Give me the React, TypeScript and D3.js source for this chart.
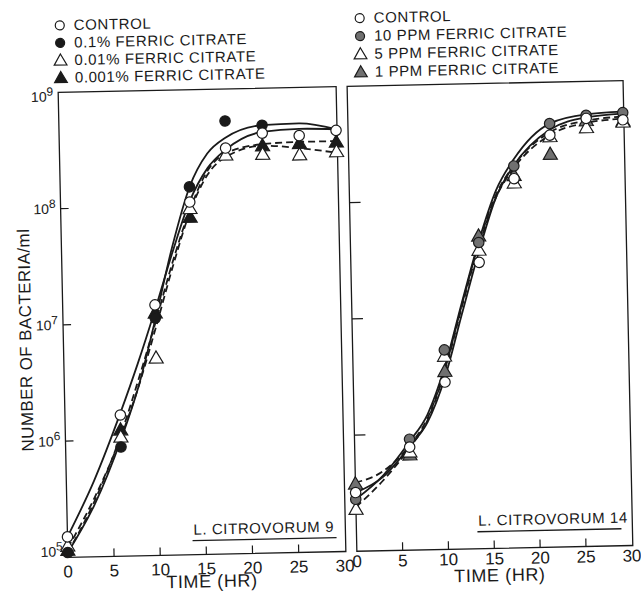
import React from "react";
import * as d3 from "d3";

// sampling times (hr) of the plotted points
const times = [0, 6, 10, 14, 18, 22, 26, 30];
const fitTimes = [0, 3, 6, 8, 10, 12, 14, 16, 18, 22, 26, 30];

// L. citrovorum 9 : measured counts
const control9 = [1.5e5, 1.64e6, 1.43e7, 1.08e8, 3.1e8, 4.1e8, 3.85e8, 4.2e8];
const ferric01 = [1.1e5, 8.7e5, 1.1e7, 1.46e8, 5.3e8, 4.8e8, null, null];
const ferric001 = [1.25e5, 1.06e6, 5.0e6, 9.5e7, 2.7e8, 2.7e8, 2.63e8, 2.76e8];
const ferric0001 = [1.15e5, 1.22e6, 1.22e7, 8.0e7, null, 3.2e8, 3.3e8, 3.34e8];
// L. citrovorum 9 : fitted curves
const control9Fit = [1.5e5, 4.5e5, 1.7e6, 4.5e6, 1.3e7, 4.0e7, 1.1e8, 2.1e8, 3.0e8, 4.2e8, 4.4e8, 4.3e8];
const ferric01Fit = [1.1e5, 2.8e5, 1.0e6, 2.8e6, 1.07e7, 4.5e7, 1.45e8, 2.8e8, 3.8e8, 4.8e8, 4.9e8, 4.3e8];
const ferric001Fit = [1.2e5, 3.2e5, 1.05e6, 2.8e6, 8.9e6, 3.0e7, 8.9e7, 1.85e8, 2.6e8, 3.2e8, 3.0e8, 2.7e8];
const ferric0001Fit = [1.1e5, 3.0e5, 1.1e6, 3.2e6, 1.0e7, 3.3e7, 9.3e7, 2.0e8, 2.8e8, 3.3e8, 3.4e8, 3.4e8];

// L. citrovorum 14 : measured counts
const control14 = [3.2e5, 7.7e5, 2.75e6, 2.9e7, 1.5e8, 3.5e8, 4.8e8, 4.6e8];
const ppm10 = [2.8e5, 9.0e5, 5.2e6, 4.3e7, 1.93e8, 4.4e8, 5.1e8, 5.3e8];
const ppm5 = [2.3e5, 7.0e5, 4.6e6, 3.7e7, 1.38e8, 3.4e8, 4.0e8, 4.4e8];
const ppm1 = [3.8e5, 6.6e5, 3.4e6, 4.9e7, 1.6e8, 2.4e8, 4.6e8, 4.5e8];
// L. citrovorum 14 : fitted curves
const control14Fit = [3.2e5, 4.3e5, 7.8e5, 1.25e6, 3.0e6, 1.05e7, 3.6e7, 1.05e8, 1.95e8, 3.9e8, 4.9e8, 5.2e8];
const ppm10Fit = [2.8e5, 4.4e5, 8.6e5, 1.45e6, 3.7e6, 1.3e7, 4.4e7, 1.2e8, 2.2e8, 4.4e8, 5.2e8, 5.4e8];
const ppm5Fit = [2.4e5, 4.0e5, 7.6e5, 1.3e6, 3.4e6, 1.2e7, 4.0e7, 1.05e8, 1.85e8, 3.5e8, 4.4e8, 4.7e8];
const ppm1Fit = [3.9e5, 4.8e5, 8.0e5, 1.35e6, 3.5e6, 1.25e7, 4.2e7, 1.1e8, 1.95e8, 3.7e8, 4.6e8, 4.9e8];

const legend9 = ["CONTROL", "0.1% FERRIC CITRATE", "0.01% FERRIC CITRATE", "0.001% FERRIC CITRATE"];
const legend14 = ["CONTROL", "10 PPM FERRIC CITRATE", "5 PPM FERRIC CITRATE", "1 PPM FERRIC CITRATE"];
const xTickValues = [0, 5, 10, 15, 20, 25, 30];
const yTickValues = [1e5, 1e6, 1e7, 1e8, 1e9];

type Series = {
  values: (number | null)[];
  fit: number[];
  shape: "circle" | "triangle";
  fill: string;
  dashed: boolean;
};

const INK = "#1a1a1a";
const GRAY = "#707070";
const FONT = "'Liberation Sans', Arial, sans-serif";

const series9: Series[] = [
  { values: control9, fit: control9Fit, shape: "circle", fill: "white", dashed: false },
  { values: ferric01, fit: ferric01Fit, shape: "circle", fill: INK, dashed: false },
  { values: ferric001, fit: ferric001Fit, shape: "triangle", fill: "white", dashed: true },
  { values: ferric0001, fit: ferric0001Fit, shape: "triangle", fill: INK, dashed: true },
];
const series14: Series[] = [
  { values: control14, fit: control14Fit, shape: "circle", fill: "white", dashed: false },
  { values: ppm10, fit: ppm10Fit, shape: "circle", fill: GRAY, dashed: false },
  { values: ppm5, fit: ppm5Fit, shape: "triangle", fill: "white", dashed: true },
  { values: ppm1, fit: ppm1Fit, shape: "triangle", fill: GRAY, dashed: true },
];

const y = d3.scaleLog().domain([1e5, 1e9]).range([552, 87]);
const triPath = d3.symbol(d3.symbolTriangle, 85)() as string;
const triSmall = d3.symbol(d3.symbolTriangle, 70)() as string;

const Marker = ({ s, cx, cy, small }: { s: Series; cx: number; cy: number; small?: boolean }) =>
  s.shape === "circle" ? (
    <circle cx={cx} cy={cy} r={small ? 4.5 : 5.2} fill={s.fill} stroke={INK} strokeWidth={1.2} />
  ) : (
    <path d={small ? triSmall : triPath} transform={`translate(${cx},${cy + 1})`} fill={s.fill} stroke={INK} strokeWidth={1.2} />
  );

type PanelProps = {
  series: Series[];
  legend: string[];
  x0: number;
  x1: number;
  legendX: number;
  legendY: number[];
  tickLen: number;
  labelGap: number;
  name: string;
  nameX: number;
  nameY: number;
  yLabels: boolean;
};

const Panel = (p: PanelProps) => {
  const x = d3.scaleLinear().domain([0, 30]).range([p.x0, p.x1]);
  const line = d3
    .line<number>()
    .x((_, i) => x(fitTimes[i]))
    .y((d) => y(d))
    .curve(d3.curveMonotoneX);
  const [yb, yt] = y.range();

  return (
    <g>
      {/* legend */}
      {p.legend.map((txt, i) => (
        <g key={txt}>
          <Marker s={p.series[i]} cx={p.legendX} cy={p.legendY[i]} small />
          <text x={p.legendX + 14} y={p.legendY[i] + 5} fontSize={15} letterSpacing={0.6} fill={INK}>
            {txt}
          </text>
        </g>
      ))}

      {/* frame */}
      <rect x={p.x0} y={yt} width={p.x1 - p.x0 + 1} height={yb - yt} fill="none" stroke={INK} strokeWidth={1.3} />

      {/* x axis ticks */}
      {xTickValues.map((t) => (
        <g key={t}>
          {t > 0 && t < 30 && <line x1={x(t)} x2={x(t)} y1={yb} y2={yb - 8} stroke={INK} strokeWidth={1.2} />}
          <text x={x(t)} y={yb + p.labelGap} textAnchor="middle" fontSize={17} fill={INK}>
            {t}
          </text>
        </g>
      ))}
      <text x={(p.x0 + p.x1) / 2 + 5} y={585} textAnchor="middle" fontSize={18} letterSpacing={0.6} fill={INK}>
        TIME (HR)
      </text>

      {/* y axis ticks */}
      {yTickValues.slice(1, -1).map((v) => (
        <line key={v} x1={p.x0} x2={p.x0 + p.tickLen} y1={y(v)} y2={y(v)} stroke={INK} strokeWidth={1.2} />
      ))}
      {p.yLabels &&
        yTickValues.map((v, i) => (
          <text key={v} x={58} y={y(v) + 5 + (i === 0 ? -6 : i === 4 ? 4 : 0)} textAnchor="end" fontSize={14} fill={INK}>
            10
            <tspan dy={-6} fontSize={12}>
              {Math.round(Math.log10(v))}
            </tspan>
          </text>
        ))}

      {/* fitted curves */}
      {p.series.map((s, i) => (
        <path
          key={i}
          d={line(s.fit) as string}
          fill="none"
          stroke={INK}
          strokeWidth={1.8}
          strokeDasharray={s.dashed ? "7,4" : undefined}
        />
      ))}

      {/* data points */}
      {p.series
        .slice()
        .reverse()
        .map((s, si) =>
          s.values.map((v, i) =>
            v == null ? null : <Marker key={`${si}-${i}`} s={s} cx={x(times[i])} cy={y(v)} />
          )
        )}

      {/* strain label */}
      <text x={p.nameX} y={p.nameY} fontSize={15} letterSpacing={0.6} fill={INK}>
        {p.name}
      </text>
      <line x1={p.nameX - 1} x2={p.nameX + 143} y1={p.nameY + 6} y2={p.nameY + 6} stroke={INK} strokeWidth={1.3} />
    </g>
  );
};

export default function App() {
  return (
    <svg
      width={641}
      height={593}
      style={{ position: "absolute", left: 0, top: 0, background: "white" }}
      fontFamily={FONT}
    >
      <g transform="rotate(-1.2 320 320)">
        <text transform="translate(31,334) rotate(-90)" textAnchor="middle" fontSize={17} letterSpacing={0.4} fill={INK}>
          NUMBER OF BACTERIA/ml
        </text>
        <Panel
          series={series9}
          legend={legend9}
          x0={63}
          x1={340}
          legendX={66}
          legendY={[20, 37.5, 55, 72.5]}
          tickLen={8}
          labelGap={20}
          name="L. CITROVORUM 9"
          nameX={189}
          nameY={532}
          yLabels
        />
        <Panel
          series={series14}
          legend={legend14}
          x0={352}
          x1={627}
          legendX={366}
          legendY={[19, 37, 55, 73]}
          tickLen={11}
          labelGap={16}
          name="L. CITROVORUM 14"
          nameX={474}
          nameY={529}
          yLabels={false}
        />
      </g>
    </svg>
  );
}
